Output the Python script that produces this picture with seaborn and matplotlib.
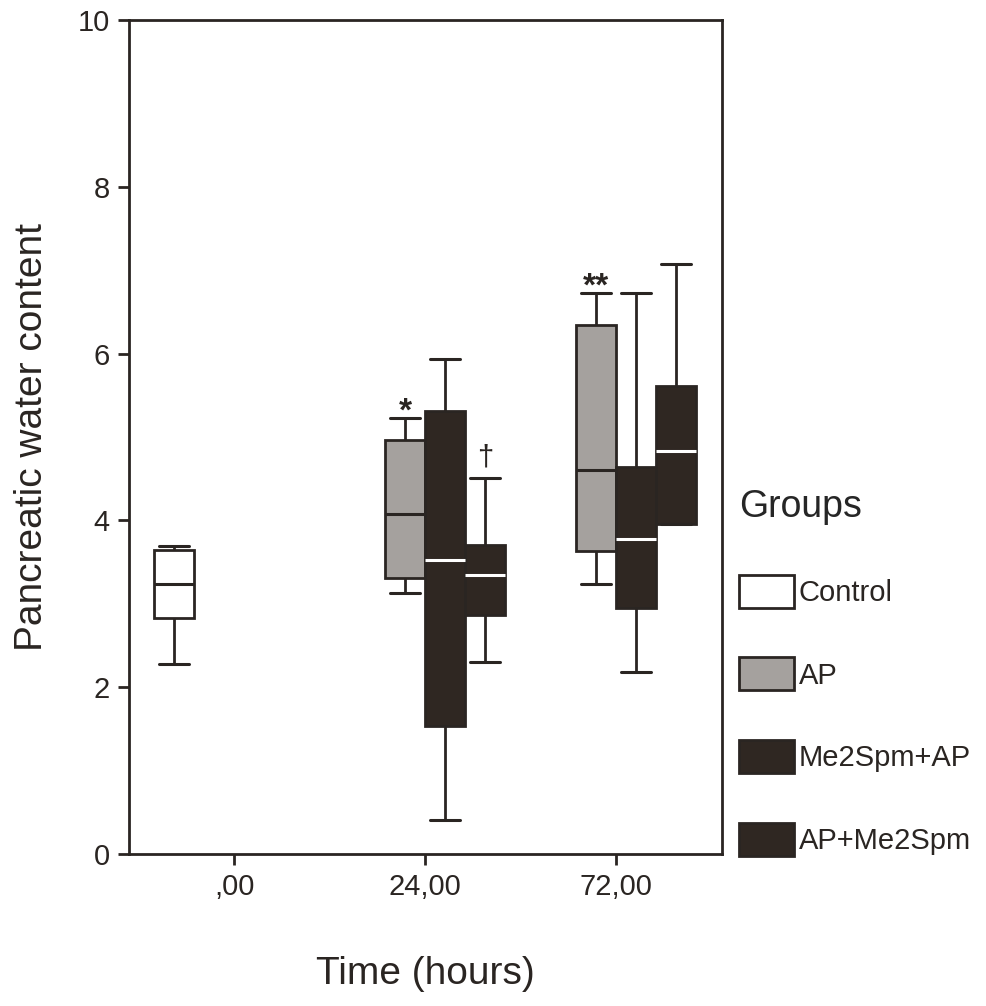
import numpy as np
import pandas as pd
import seaborn as sns
import matplotlib.pyplot as plt
from matplotlib.patches import Patch

# ---- data -------------------------------------------------------------
times = [",00", "24,00", "72,00"]
groups = ["Control", "AP", "Me2Spm+AP", "AP+Me2Spm"]

# five-number summaries per box: minimum, Q1, median, Q3, maximum
control_00 = [2.28, 2.83, 3.24, 3.65, 3.69]
ap_24 = [3.13, 3.31, 4.08, 4.97, 5.23]
me2spm_ap_24 = [0.41, 1.53, 3.53, 5.31, 5.94]
ap_me2spm_24 = [2.30, 2.86, 3.34, 3.71, 4.51]
ap_72 = [3.24, 3.63, 4.60, 6.34, 6.73]
me2spm_ap_72 = [2.18, 2.95, 3.78, 4.64, 6.73]
ap_me2spm_72 = [3.96, 3.96, 4.83, 5.61, 7.08]

# significance marks: (group, time, symbol)
sig_marks = [("AP", "24,00", "*"), ("AP+Me2Spm", "24,00", "\u2020"), ("AP", "72,00", "**")]

boxes = {
    (",00", "Control"): control_00,
    ("24,00", "AP"): ap_24,
    ("24,00", "Me2Spm+AP"): me2spm_ap_24,
    ("24,00", "AP+Me2Spm"): ap_me2spm_24,
    ("72,00", "AP"): ap_72,
    ("72,00", "Me2Spm+AP"): me2spm_ap_72,
    ("72,00", "AP+Me2Spm"): ap_me2spm_72,
}
rows = [(t, g, v) for (t, g), vals in boxes.items() for v in vals]
df = pd.DataFrame(rows, columns=["time", "group", "value"])

# ---- style ------------------------------------------------------------
sns.set_theme(style="ticks")
plt.rcParams["font.family"] = ["Liberation Sans", "DejaVu Sans"]

ink = "#2a2522"
dark = "#2f2722"
gray = "#a5a19e"
palette = {"Control": "white", "AP": gray, "Me2Spm+AP": dark, "AP+Me2Spm": dark}
median_colors = {"Control": ink, "AP": ink, "Me2Spm+AP": "white", "AP+Me2Spm": "white"}

W, H = 987, 1006
fig = plt.figure(figsize=(W / 100, H / 100), dpi=100)
ax = fig.add_axes([129 / W, 1 - 854 / H, 593 / W, 834 / H])

box_width = 0.84
sns.boxplot(
    data=df, x="time", y="value", hue="group",
    order=times, hue_order=groups, palette=palette,
    width=box_width, gap=0, whis=(0, 100), saturation=1,
    linewidth=2, linecolor=ink, legend=False, ax=ax,
)

# per-group median colour and narrower whisker caps
slot = box_width / len(groups)
cap_half = slot * 0.75 / 2
for grp, cont in zip(groups, ax.containers):
    for med in cont.medians:
        med.set_color(median_colors[grp])
        med.set_linewidth(2.2)
    for cap in cont.caps:
        xd = np.asarray(cap.get_xdata(), dtype=float)
        c = xd.mean()
        cap.set_xdata([c - cap_half, c + cap_half])
        cap.set_linewidth(2.2)
    for wh in cont.whiskers:
        wh.set_linewidth(2)

# significance symbols above the upper whiskers
for grp, t, sym in sig_marks:
    x = times.index(t) + (groups.index(grp) + 0.5) * slot - box_width / 2
    top = max(boxes[(t, grp)])
    if sym == "\u2020":
        ax.annotate(sym, xy=(x, top), xytext=(0, 9), textcoords="offset points",
                    ha="center", va="baseline", fontsize=21, color=ink)
    else:
        ax.annotate(sym, xy=(x, top), xytext=(0, -2), textcoords="offset points",
                    ha="center", va="baseline", fontsize=24, fontweight="bold", color=ink)

# axes
ax.set_xlim(-0.55, 2.555)
ax.set_ylim(0, 10)
ax.set_yticks(range(0, 11, 2))
ax.set_xticks(range(len(times)))
ax.set_xticklabels(times)
for sp in ax.spines.values():
    sp.set_visible(True)
    sp.set_linewidth(2)
    sp.set_color(ink)
ax.tick_params(axis="both", direction="out", length=8, width=2, color=ink,
               labelsize=21, labelcolor=ink, pad=6)
ax.set_xlabel("Time (hours)", fontsize=28, color=ink)
ax.set_ylabel("Pancreatic water content", fontsize=28, color=ink)
ax.xaxis.set_label_coords(0.5, -0.122)
ax.yaxis.set_label_coords(-0.133, 0.5)
ax.grid(False)

# legend
handles = [Patch(facecolor=palette[g], edgecolor=ink, linewidth=2) for g in groups]
fig.legend(
    handles, groups, title="Groups", loc="upper left",
    bbox_to_anchor=(739 / W, 1 - 489 / H), bbox_transform=fig.transFigure,
    frameon=False, fontsize=21, title_fontsize=27, alignment="left",
    handlelength=1.88, handleheight=1.37, handletextpad=0.17,
    labelspacing=1.7, borderpad=0, borderaxespad=0,
    labelcolor=ink,
)

fig.savefig("out.png", dpi=100, facecolor="white")
